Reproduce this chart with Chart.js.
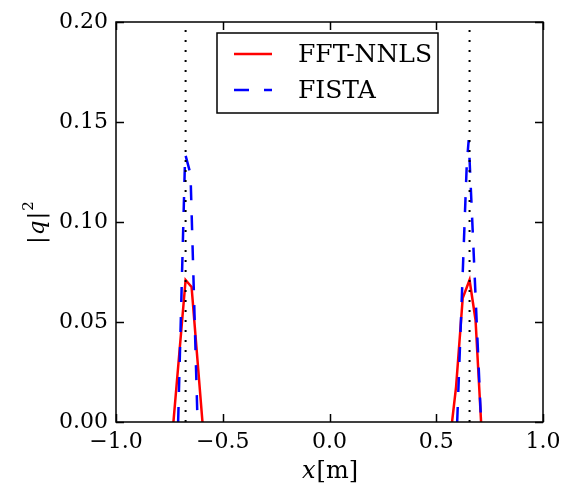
<!DOCTYPE html>
<html>
<head>
<meta charset="utf-8">
<script src="https://cdn.jsdelivr.net/npm/chart.js@4.4.1/dist/chart.umd.min.js"></script>
<style>
  html, body { margin: 0; padding: 0; background: #fff; }
  #wrap { width: 570px; height: 489px; }
</style>
</head>
<body>
<div id="wrap"><canvas id="chart" width="570" height="489"></canvas></div>
<script>
// values
const FFT_LEFT_X = [-0.731, -0.674, -0.646, -0.595];
const FFT_LEFT_Y = [0, 0.071, 0.0675, 0];
const FFT_RIGHT_X = [0.574, 0.593, 0.624, 0.656, 0.684, 0.710];
const FFT_RIGHT_Y = [0, 0.0177, 0.062, 0.071, 0.051, 0];

const FISTA_LEFT_X = [-0.709, -0.676, -0.651, -0.618];
const FISTA_LEFT_Y = [0, 0.134, 0.124, 0];
const FISTA_RIGHT_X = [0.598, 0.643, 0.652, 0.710];
const FISTA_RIGHT_Y = [0, 0.129, 0.141, 0];

// true source positions (dotted verticals)
const MARKERS = [-0.674, 0.656];

const X_MIN = -1, X_MAX = 1, X_STEP = 0.5;
const Y_MIN = 0, Y_MAX = 0.2, Y_STEP = 0.05;

const SERIF = '"DejaVu Serif", serif';
const TICK = 8;

function toPoints(xs, ys) {
  return xs.map((x, i) => ({ x: x, y: ys[i] }));
}

function twoPeaks(lx, ly, rx, ry) {
  // a null point splits the two peaks into separate segments
  return toPoints(lx, ly).concat([{ x: 0, y: null }], toPoints(rx, ry));
}

const datasets = [
  {
    label: 'FFT-NNLS',
    data: twoPeaks(FFT_LEFT_X, FFT_LEFT_Y, FFT_RIGHT_X, FFT_RIGHT_Y),
    borderColor: '#ff0000',
    borderWidth: 2.5,
    order: 2
  },
  {
    label: 'FISTA',
    data: twoPeaks(FISTA_LEFT_X, FISTA_LEFT_Y, FISTA_RIGHT_X, FISTA_RIGHT_Y),
    borderColor: '#0000ff',
    borderWidth: 2.5,
    borderDash: [15, 15],
    order: 1
  }
];

MARKERS.forEach(m => {
  datasets.push({
    label: 'marker',
    data: [{ x: m, y: Y_MIN }, { x: m, y: Y_MAX }],
    borderColor: '#000',
    borderWidth: 2,
    borderDash: [2, 8],
    order: 0
  });
});

// frame and inward ticks on all four sides, like matplotlib classic
const framePlugin = {
  id: 'frame',
  afterDatasetsDraw(chart) {
    const { ctx, chartArea: a, scales } = chart;
    const xs = scales.x, ys = scales.y;
    ctx.save();
    ctx.strokeStyle = '#000';
    ctx.lineWidth = 1.5;
    ctx.beginPath();
    xs.ticks.forEach(t => {
      const px = Math.round(xs.getPixelForValue(t.value)) + 0.5;
      ctx.moveTo(px, a.bottom); ctx.lineTo(px, a.bottom - TICK);
      ctx.moveTo(px, a.top); ctx.lineTo(px, a.top + TICK);
    });
    ys.ticks.forEach(t => {
      const py = Math.round(ys.getPixelForValue(t.value)) + 0.5;
      ctx.moveTo(a.left, py); ctx.lineTo(a.left + TICK, py);
      ctx.moveTo(a.right, py); ctx.lineTo(a.right - TICK, py);
    });
    ctx.stroke();
    ctx.strokeRect(a.left, a.top, a.right - a.left, a.bottom - a.top);
    ctx.restore();
  }
};

// boxed legend in the top middle of the plot
const legendPlugin = {
  id: 'boxLegend',
  afterDraw(chart) {
    const { ctx, chartArea: a } = chart;
    const left = a.left + 101, top = a.top + 11, w = 221, h = 80;
    ctx.save();
    ctx.fillStyle = '#fff';
    ctx.fillRect(left, top, w, h);
    ctx.lineWidth = 1.5;
    ctx.strokeStyle = '#000';
    ctx.strokeRect(left, top, w, h);
    chart.data.datasets.slice(0, 2).forEach((ds, i) => {
      const yy = top + 21 + i * 36;
      ctx.beginPath();
      ctx.setLineDash(ds.borderDash || []);
      ctx.strokeStyle = ds.borderColor;
      ctx.lineWidth = ds.borderWidth;
      ctx.moveTo(left + 17, yy);
      ctx.lineTo(left + 55, yy);
      ctx.stroke();
      ctx.setLineDash([]);
      ctx.fillStyle = '#000';
      ctx.font = '25px ' + SERIF;
      ctx.textBaseline = 'middle';
      ctx.textAlign = 'left';
      ctx.fillText(ds.label, left + 81, yy + 1);
    });
    ctx.restore();
  }
};

// axis titles with an italic variable, drawn as text
const titlePlugin = {
  id: 'axisTitles',
  afterDraw(chart) {
    const { ctx, chartArea: a } = chart;
    ctx.save();
    ctx.fillStyle = '#000';
    ctx.textBaseline = 'alphabetic';
    ctx.textAlign = 'left';

    // x label: x[m]
    const it = 'italic 24px ' + SERIF, rg = '24px ' + SERIF;
    ctx.font = it; const w1 = ctx.measureText('x').width;
    ctx.font = rg; const w2 = ctx.measureText('[m]').width;
    let sx = (a.left + a.right) / 2 - (w1 + w2) / 2;
    const by = 478;
    ctx.font = it; ctx.fillText('x', sx, by);
    ctx.font = rg; ctx.fillText('[m]', sx + w1 + 1, by);

    // y label: |q|^2
    ctx.translate(44, (a.top + a.bottom) / 2);
    ctx.rotate(-Math.PI / 2);
    const yl = '23px ' + SERIF, yi = 'italic 23px ' + SERIF, sup = '15px ' + SERIF;
    ctx.font = yl; const p = ctx.measureText('|').width;
    ctx.font = yi; const q = ctx.measureText('q').width;
    ctx.font = sup; const s = ctx.measureText('2').width;
    let x0 = -(2 * p + q + s + 4) / 2;
    ctx.font = yl; ctx.fillText('|', x0, 0);
    ctx.font = yi; ctx.fillText('q', x0 + p + 1, 0);
    ctx.font = yl; ctx.fillText('|', x0 + p + q + 2, 0);
    ctx.font = sup; ctx.fillText('2', x0 + 2 * p + q + 3, -11);
    ctx.restore();
  }
};

new Chart(document.getElementById('chart'), {
  type: 'line',
  data: { datasets: datasets },
  options: {
    responsive: false,
    animation: false,
    spanGaps: false,
    layout: { padding: { top: 22, right: 27, left: 0, bottom: 0 } },
    elements: {
      point: { radius: 0 },
      line: { tension: 0, fill: false }
    },
    plugins: {
      legend: { display: false },
      tooltip: { enabled: false }
    },
    scales: {
      x: {
        type: 'linear',
        min: X_MIN, max: X_MAX,
        grid: { display: false, drawTicks: false },
        border: { display: false },
        afterFit: s => { s.height = 67; },
        ticks: {
          stepSize: X_STEP,
          color: '#000',
          padding: 7,
          font: { family: SERIF, size: 22 },
          maxRotation: 0,
          callback: v => (v < 0 ? '\u2212' + Math.abs(v).toFixed(1) : v.toFixed(1))
        }
      },
      y: {
        type: 'linear',
        min: Y_MIN, max: Y_MAX,
        grid: { display: false, drawTicks: false },
        border: { display: false },
        afterFit: s => { s.width = 116; },
        ticks: {
          stepSize: Y_STEP,
          color: '#000',
          padding: 8,
          font: { family: SERIF, size: 22 },
          callback: v => v.toFixed(2)
        }
      }
    }
  },
  plugins: [framePlugin, legendPlugin, titlePlugin]
});
</script>
</body>
</html>
